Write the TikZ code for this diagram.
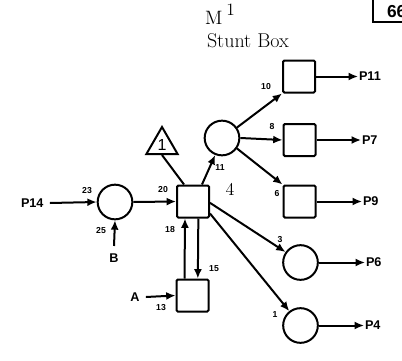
\documentclass[tikz,border=0pt]{standalone}
\usepackage{fontspec}
\usetikzlibrary{arrows.meta,shapes.geometric}
\newfontfamily\labfont{Liberation Sans}
\begin{document}
\begin{tikzpicture}[x=0.75pt,y=-0.75pt,
  line width=1.5pt,
  conn/.style={-{Latex[length=7pt,width=6pt]}},
  sq/.style={draw,rectangle,rounded corners=1pt,minimum size=24pt,inner sep=0pt},
  circ/.style={draw,circle,minimum size=26pt,inner sep=0pt},
  tri/.style={draw,regular polygon,regular polygon sides=3,minimum size=27pt,inner sep=0pt},
  plab/.style={font=\labfont\bfseries\fontsize{9.5}{10}\selectfont,inner sep=0pt},
  num/.style={font=\labfont\bfseries\fontsize{6.5}{7}\selectfont,inner sep=0pt},
  serif/.style={inner sep=0pt}]
\clip (0,0) rectangle (402,360);
% page box
\node[font=\labfont\bfseries\fontsize{13}{14}\selectfont,anchor=west,inner sep=0pt] (pg) at (386,12) {66};
\draw (373,-5) -- (373,22) -- (410,22);
% title
\node[serif,anchor=base west,font=\fontsize{14.5}{16}\selectfont] (m) at (204,25) {M\hspace{3pt}\raisebox{7pt}{\fontsize{13}{14}\selectfont 1}};
\node[serif,anchor=base west,font=\fontsize{15}{17}\selectfont] (sb) at (206,47) {Stunt Box};
% nodes
\node[circ] (c1) at (115,202) {};
\node[sq] (s) at (193,201.5) {};
\node[tri] (t) at (162,145) {\labfont\fontsize{12}{12}\selectfont 1};
\node[circ] (c2) at (222,138) {};
\node[sq] (b1) at (299,76.5) {};
\node[sq] (b2) at (299.5,140) {};
\node[sq] (b3) at (299.5,201.5) {};
\node[circ] (c3) at (300.5,262.5) {};
\node[circ] (c4) at (300.5,325.5) {};
\node[sq] (sa) at (192.5,295.5) {};
% external labels
\node[plab,anchor=west] (p14) at (20,203) {P14};
\node[plab] (bb) at (114,258) {B};
\node[plab] (aa) at (135,297) {A};
\node[plab,anchor=west] (p11) at (358,76.5) {P11};
\node[plab,anchor=west] (p7) at (361,140) {P7};
\node[plab,anchor=west] (p9) at (362,201.5) {P9};
\node[plab,anchor=west] (p6) at (365,262.5) {P6};
\node[plab,anchor=west] (p4) at (364,325.5) {P4};
% connectors
\draw[conn] ([xshift=4pt]p14.east) -- (c1.west);
\draw[conn] ([yshift=5pt]bb.north) -- (c1.south);
\draw[conn] (c1.east) -- (s.west);
\draw (t.south) -- ([xshift=6pt]s.north west);
\draw[conn] ([xshift=-6pt]s.north east) -- (c2.-112);
\draw[conn] (c2.35) -- (b1.south west);
\draw[conn] (c2.east) -- (b2.west);
\draw[conn] (c2.-35) -- (b3.north west);
\draw[conn] ([yshift=-1pt]s.east) -- (c3.145);
\draw[conn] ([yshift=-9pt]s.east) -- (c4.128);
\draw[conn] ([xshift=-6pt]sa.north) -- ([xshift=-6pt]s.south);
\draw[conn] ([xshift=4pt]s.south) -- ([xshift=4pt]sa.north);
\draw[conn] ([xshift=4pt]aa.east) -- (sa.west);
\draw[conn] (b1.east) -- (p11.west);
\draw[conn] (b2.east) -- (p7.west);
\draw[conn] (b3.east) -- (p9.west);
\draw[conn] (c3.east) -- (p6.west);
\draw[conn] (c4.east) -- (p4.west);
% small numbers
\node[num] (n23) at (87,191) {23};
\node[num] (n25) at (101,231) {25};
\node[num] (n20) at (163,190) {20};
\node[num] (n18) at (170,230) {18};
\node[num] (n11) at (220,168) {11};
\node[num] (n10) at (266,87) {10};
\node[num] (n8) at (272,127) {8};
\node[num] (n6) at (277,194) {6};
\node[num] (n3) at (280,240) {3};
\node[num] (n1) at (275,315) {1};
\node[num] (n15) at (214,269) {15};
\node[num] (n13) at (161,308) {13};
\node[serif,font=\fontsize{13.5}{15}\selectfont] (four) at (230,189) {4};
\end{tikzpicture}
\end{document}
